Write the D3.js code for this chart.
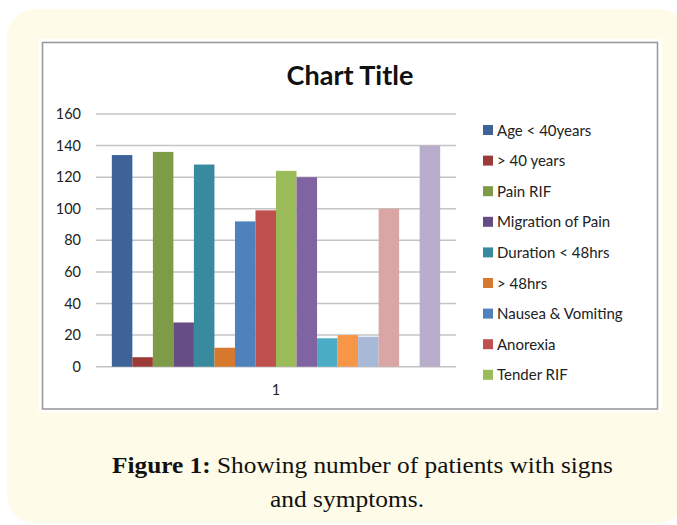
<!DOCTYPE html>
<html>
<head>
<meta charset="utf-8">
<script src="https://cdn.jsdelivr.net/npm/d3@7"></script>
<style>
  body { margin: 0; background: #ffffff; }
  svg { display: block; }
</style>
</head>
<body>
<div id="chart"></div>
<script>
// Chart data
const categories = ["1"];
const seriesValues = [134, 6, 136, 28, 128, 12, 92, 99, 124, 120, 18, 20, 19, 100, 0, 140];
const seriesColors = [
    "#3d6399", "#9b3b38", "#7e9c47", "#674d86", "#388a9f", "#d6782d",
    "#4f81bd", "#c0504d", "#9bbb59", "#8064a2", "#4bacc6", "#f79646",
    "#a8b9d8", "#d9a6a5", "#c3d69b", "#b8adcb"
];
// only the first nine entries fit in the legend box
const legendLabels = [
    "Age < 40years", "> 40 years", "Pain RIF", "Migration of Pain",
    "Duration < 48hrs", "> 48hrs", "Nausea & Vomiting", "Anorexia", "Tender RIF"
];
const yTicks = [0, 20, 40, 60, 80, 100, 120, 140, 160];

const width = 677;
const height = 525;
const font = "Lato, 'Open Sans', sans-serif";

const svg = d3.select("#chart")
    .append("svg")
    .attr("width", width)
    .attr("height", height);

// Cream page panel
svg.append("rect")
    .attr("x", 7).attr("y", 9)
    .attr("width", 680).attr("height", 514)
    .attr("rx", 28)
    .attr("fill", "#fefbe8");

// White chart area + grey frame
svg.append("rect")
    .attr("x", 39).attr("y", 39)
    .attr("width", 623).attr("height", 373)
    .attr("fill", "#ffffff");

svg.append("rect")
    .attr("x", 42.5).attr("y", 42.5)
    .attr("width", 615).attr("height", 366.5)
    .attr("fill", "none")
    .attr("stroke", "#9a9a9a")
    .attr("stroke-width", 1.6);

// Title
svg.append("text")
    .attr("x", 350).attr("y", 85)
    .attr("text-anchor", "middle")
    .style("font-family", font)
    .style("font-weight", "bold")
    .style("font-size", "27px")
    .attr("fill", "#111")
    .text("Chart Title");

// Scales
const plotLeft = 96, plotRight = 456, plotTop = 114, plotBottom = 366.7;

const x0 = d3.scaleBand()
    .domain(categories)
    .range([plotLeft, plotRight])
    .padding(0.046);

const x1 = d3.scaleBand()
    .domain(d3.range(seriesValues.length))
    .range([0, x0.bandwidth()]);

const y = d3.scaleLinear()
    .domain([0, 160])
    .range([plotBottom, plotTop]);

// Gridlines
svg.append("g")
    .selectAll("line")
    .data(yTicks)
    .join("line")
    .attr("x1", plotLeft).attr("x2", plotRight)
    .attr("y1", d => y(d)).attr("y2", d => y(d))
    .attr("stroke", "#c4c4c4")
    .attr("stroke-width", 1.5);

// Y axis labels
svg.append("g")
    .selectAll("text")
    .data(yTicks)
    .join("text")
    .attr("x", 81)
    .attr("y", d => y(d) + 5)
    .attr("text-anchor", "end")
    .style("font-family", font)
    .style("font-size", "14.5px")
    .attr("fill", "#222")
    .text(d => d);

// Bars
const group = svg.append("g")
    .attr("transform", `translate(${x0(categories[0])},0)`);

group.selectAll("rect")
    .data(seriesValues)
    .join("rect")
    .attr("x", (d, i) => x1(i))
    .attr("y", d => y(d))
    .attr("width", x1.bandwidth())
    .attr("height", d => y(0) - y(d))
    .attr("fill", (d, i) => seriesColors[i]);

// Category label
svg.append("text")
    .attr("x", x0(categories[0]) + x0.bandwidth() / 2)
    .attr("y", 395)
    .attr("text-anchor", "middle")
    .style("font-family", font)
    .style("font-size", "14.5px")
    .attr("fill", "#222")
    .text(categories[0]);

// Legend
const legend = svg.append("g")
    .attr("transform", "translate(483,130)");

legendLabels.forEach((label, i) => {
    const row = legend.append("g")
        .attr("transform", `translate(0, ${i * 30.6})`);
    row.append("rect")
        .attr("x", 0).attr("y", -5)
        .attr("width", 10).attr("height", 10)
        .attr("fill", seriesColors[i]);
    row.append("text")
        .attr("x", 14).attr("y", 5.5)
        .style("font-family", font)
        .style("font-size", "15px")
        .attr("fill", "#222")
        .text(label);
});

// Caption
const caption = svg.append("text")
    .attr("x", 112).attr("y", 473)
    .attr("textLength", 501)
    .attr("lengthAdjust", "spacingAndGlyphs")
    .style("font-family", "'Liberation Serif', serif")
    .style("font-size", "23px")
    .attr("fill", "#111");
caption.append("tspan")
    .style("font-weight", "bold")
    .text("Figure 1:");
caption.append("tspan")
    .text(" Showing number of patients with signs");

svg.append("text")
    .attr("x", 270).attr("y", 507)
    .attr("textLength", 154)
    .attr("lengthAdjust", "spacingAndGlyphs")
    .style("font-family", "'Liberation Serif', serif")
    .style("font-size", "23px")
    .attr("fill", "#111")
    .text("and symptoms.");
</script>
</body>
</html>
